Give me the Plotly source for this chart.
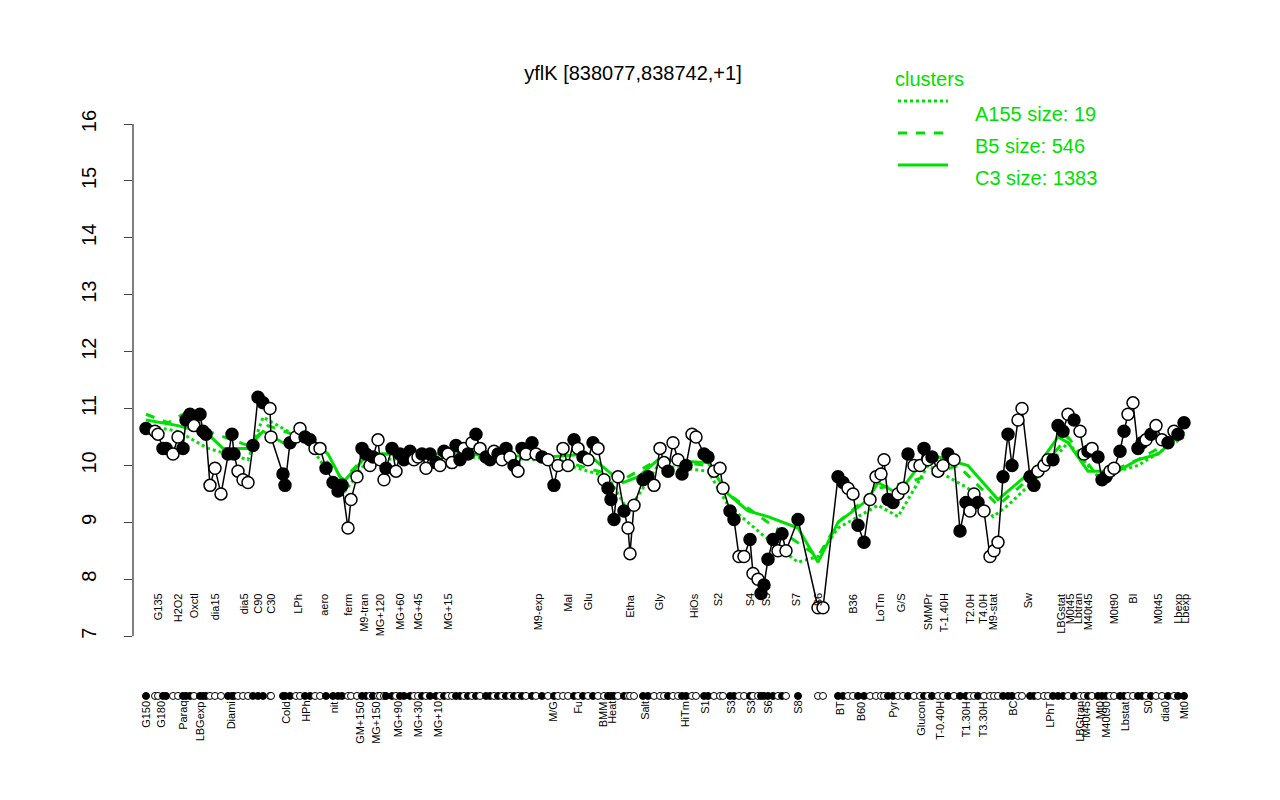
import plotly.graph_objects as go

# black profile: position, value, filled?
pos = [138,147,150,155,158,165,170,175,178,182,186,192,195,198,202,207,213,220,224,226,230,235,240,245,250,255,262,263,275,277,
       282,288,292,297,302,307,312,318,325,330,334,340,343,349,354,358,362,365,370,372,376,378,384,388,392,396,402,406,410,414,
       418,422,428,432,436,440,444,448,452,456,460,464,468,472,478,482,486,490,494,498,502,506,510,514,518,524,528,534,540,546,
       550,555,560,566,570,575,580,585,590,596,600,603,606,610,616,620,622,626,635,640,646,652,656,660,665,670,674,678,684,688,
       696,700,706,712,715,722,726,731,736,742,745,750,753,756,760,765,770,774,778,790,810,815,830,835,840,845,850,856,862,868,
       873,876,880,885,890,895,900,906,912,916,920,924,930,935,940,946,952,958,962,966,970,976,982,986,990,995,1000,1004,1010,1014,
       1022,1026,1030,1036,1040,1045,1050,1055,1060,1066,1072,1076,1080,1084,1090,1094,1098,1102,1106,1112,1116,1120,1125,1130,1134,1138,1143,1148,1154,1160,
       1166,1170,1176]
vals = [10.65,10.6,10.55,10.3,10.3,10.2,10.5,10.3,10.8,10.9,10.7,10.9,10.6,10.55,9.65,9.95,9.5,10.2,10.55,10.2,9.9,9.75,9.7,10.35,11.2,11.1,11.0,10.5,9.85,9.65,
        10.4,10.5,10.65,10.5,10.45,10.3,10.3,9.95,9.7,9.55,9.65,8.9,9.4,9.8,10.3,10.2,10.0,10.15,10.45,10.1,9.75,9.95,10.3,9.9,10.2,10.1,10.25,10.1,10.15,10.2,
        9.95,10.2,10.05,10.0,10.25,10.2,10.05,10.35,10.1,10.3,10.2,10.4,10.55,10.3,10.15,10.1,10.25,10.2,10.1,10.3,10.15,10.0,9.9,10.3,10.2,10.4,10.2,10.15,10.1,9.65,
        10.0,10.3,10.0,10.45,10.3,10.15,10.1,10.4,10.3,9.75,9.6,9.4,9.05,9.8,9.2,8.9,8.45,9.3,9.75,9.8,9.65,10.3,10.05,9.9,10.4,10.1,9.85,10.0,10.55,10.5,
        10.2,10.15,9.9,9.95,9.6,9.2,9.05,8.4,8.4,8.7,8.1,8.0,7.75,7.9,8.35,8.7,8.5,8.8,8.5,9.05,7.5,7.5,9.8,9.7,9.6,9.5,8.95,8.65,9.4,9.8,
        9.85,10.1,9.4,9.35,9.5,9.6,10.2,10.0,10.0,10.3,10.1,10.15,9.9,10.0,10.2,10.1,8.85,9.35,9.2,9.5,9.35,9.2,8.4,8.5,8.65,9.8,10.55,10.0,10.8,11.0,
        9.8,9.65,9.9,10.0,10.1,10.1,10.7,10.6,10.9,10.8,10.6,10.2,10.25,10.3,10.15,9.75,9.8,9.9,9.95,10.25,10.6,10.9,11.1,10.3,10.4,10.45,10.55,10.7,10.45,10.4,
        10.6,10.55,10.75]
filled = [1,0,0,1,1,0,0,1,1,1,0,1,1,1,0,0,0,1,1,1,0,0,0,1,1,1,0,0,1,1,
          1,0,0,1,1,0,0,1,1,1,1,0,0,0,1,1,0,1,0,0,0,1,1,0,1,1,1,0,0,1,
          0,1,1,0,1,0,0,1,1,0,1,0,1,0,1,1,0,1,0,1,0,1,0,1,0,1,0,1,0,1,
          0,0,0,1,0,1,0,1,0,0,1,1,1,0,1,0,0,0,1,1,0,0,0,1,0,0,1,1,0,0,
          1,1,0,0,0,1,1,0,0,1,0,0,1,1,1,1,0,1,0,1,0,0,1,1,0,0,1,1,0,0,
          0,0,1,1,0,0,1,0,0,1,0,1,0,0,1,0,1,1,0,0,1,0,0,0,0,1,1,1,0,0,
          1,1,0,0,0,1,1,1,0,1,0,0,1,0,1,1,1,0,0,1,1,0,0,1,1,0,1,0,0,1,
          0,1,1]

# cluster mean profiles
c3_x = [138,170,200,215,240,255,275,300,320,335,345,360,450,540,580,600,615,630,650,700,720,740,760,790,810,830,860,870,890,920,960,980,990,1010,1030,1050,1060,1080,1110,1130,1150,1176]
c3_y = [10.8,10.7,10.55,10.3,10.3,10.6,10.4,10.5,10.2,9.7,9.9,10.2,10.2,10.15,10.2,9.9,9.7,9.8,10.1,10.05,9.5,9.2,9.1,8.9,8.3,9.0,9.4,9.7,9.5,10.2,10.0,9.6,9.4,9.7,10.0,10.5,10.4,9.9,9.9,10.1,10.2,10.6]
b5_x = [138,160,180,200,240,260,300,335,360,450,540,600,615,650,700,720,760,810,830,870,900,950,990,1030,1060,1090,1130,1176]
b5_y = [10.9,10.75,10.95,10.6,10.35,10.7,10.45,9.75,10.2,10.2,10.15,9.85,9.75,10.1,10.0,9.5,9.0,8.4,9.0,9.6,9.7,10.0,9.3,9.9,10.5,9.8,10.1,10.55]
a155_x = [138,170,200,240,255,300,335,360,450,540,600,620,650,700,720,760,790,810,830,870,890,920,960,985,1000,1030,1060,1090,1130,1176]
a155_y = [10.7,10.6,10.3,10.1,10.85,10.4,9.5,10.1,10.15,10.1,9.8,9.2,10.0,9.9,9.3,8.7,8.3,8.4,8.9,9.3,9.1,10.0,9.6,9.1,9.3,9.8,10.4,9.8,10.0,10.5]

row1_lbl = ["G135","H2O2","Oxctl","dia15","dia5","C90","C30","LPh","aero","ferm","M9-tran","MG+120","MG+60","MG+45","MG+15","M9-exp",
            "Mal","Glu","Etha","Gly","HiOs","S2","S4","S5","S7","S6","B36","LoTm","G/S","SMMPr","T-1.40H","T2.0H","T4.0H","M9-stat",
            "Sw","LBGstat","M0t45","Lbtran","M40t45","M0t90","BI","M0t45","Lbexp","Lbexp"]
row1_pos = [150,170,186,207,236,250,263,290,316,340,356,372,392,410,440,530,560,580,622,651,686,710,742,758,788,810,845,872,893,920,
            936,962,975,985,1020,1053,1062,1070,1080,1106,1125,1150,1170,1177]
row2_lbl = ["G150","G180","Paraq","LBGexp","Diami","Cold","HPh","nit","GM+150","MG+150","MG+90","MG+30","MG+10","M/G","Fu","BMM",
            "Heat","Salt","HiTm","S1","S3","S3","S6","S8","BT","B60","Pyr","Glucon","T-0.40H","T1.30H","T3.30H","BC","LPhT",
            "LBGtran","M40t45","Mt0","M40t90","Lbstat","S0","dia0","Mt0"]
row2_pos = [138,153,175,192,223,278,298,326,352,368,390,410,430,545,570,595,604,637,677,697,723,743,760,790,832,853,885,913,
            932,958,975,1005,1042,1072,1078,1092,1098,1117,1140,1157,1176]

green = "#00e000"
fig = go.Figure()
fig.add_trace(go.Scatter(x=a155_x, y=a155_y, mode="lines", line=dict(color=green, width=3, dash="dot"), hoverinfo="skip"))
fig.add_trace(go.Scatter(x=b5_x, y=b5_y, mode="lines", line=dict(color=green, width=3, dash="dash"), hoverinfo="skip"))
fig.add_trace(go.Scatter(x=c3_x, y=c3_y, mode="lines", line=dict(color=green, width=3), hoverinfo="skip"))
cols = ["black" if f else "white" for f in filled]
fig.add_trace(go.Scatter(x=pos, y=vals, mode="lines+markers", line=dict(color="black", width=1.5),
                         marker=dict(size=12, color=cols, line=dict(color="black", width=1.5))))
fig.add_trace(go.Scatter(x=pos, y=[5.95] * len(pos), mode="markers",
                         marker=dict(size=7, color=cols, line=dict(color="black", width=1))))

ann = []
for t, p in zip(row1_lbl, row1_pos):
    ann.append(dict(x=p, y=7.78, text=t, textangle=-90, showarrow=False, yanchor="top", font=dict(size=11)))
for t, p in zip(row2_lbl, row2_pos):
    ann.append(dict(x=p, y=5.89, text=t, textangle=-90, showarrow=False, yanchor="top", font=dict(size=11)))

# legend (paper coords: plot spans pixel 116..742)
def py2paper(py):
    return (742 - py) / 626

ann.append(dict(xref="paper", yref="paper", x=(885 - 125) / 1075, y=py2paper(58), text="clusters",
                showarrow=False, xanchor="left", font=dict(size=20, color=green)))
legend = [("A155 size: 19", "dot", 93), ("B5 size: 546", "dash", 125), ("C3 size: 1383", "solid", 157)]
shapes = [dict(type="line", xref="paper", yref="y", x0=0, x1=0, y0=7, y1=16, line=dict(color="black", width=1))]
for txt, d, py in legend:
    yy = py2paper(py)
    ann.append(dict(xref="paper", yref="paper", x=(965 - 125) / 1075, y=yy, text=txt, showarrow=False,
                    xanchor="left", font=dict(size=20, color=green)))
    shapes.append(dict(type="line", xref="paper", yref="paper", x0=(890 - 125) / 1075, x1=(940 - 125) / 1075,
                       y0=yy, y1=yy, line=dict(color=green, width=3, dash=d)))

fig.update_layout(
    width=1280, height=800, plot_bgcolor="white", paper_bgcolor="white", showlegend=False,
    margin=dict(l=125, r=80, t=116, b=58),
    font=dict(family="Liberation Sans, Arial", color="black"),
    title=dict(text="yflK [838077,838742,+1]", x=625 / 1280, xanchor="center", y=1 - 58 / 800, font=dict(size=20)),
    annotations=ann, shapes=shapes,
    xaxis=dict(range=[125, 1200], showticklabels=False, showgrid=False, zeroline=False, ticks=""),
    yaxis=dict(range=[5.0, 16], tickvals=list(range(7, 17)), showgrid=False, zeroline=False, showline=False,
               ticks="outside", ticklen=8, tickangle=-90, tickfont=dict(size=20), ticklabelstandoff=20),
)
fig.write_html("out.html")
